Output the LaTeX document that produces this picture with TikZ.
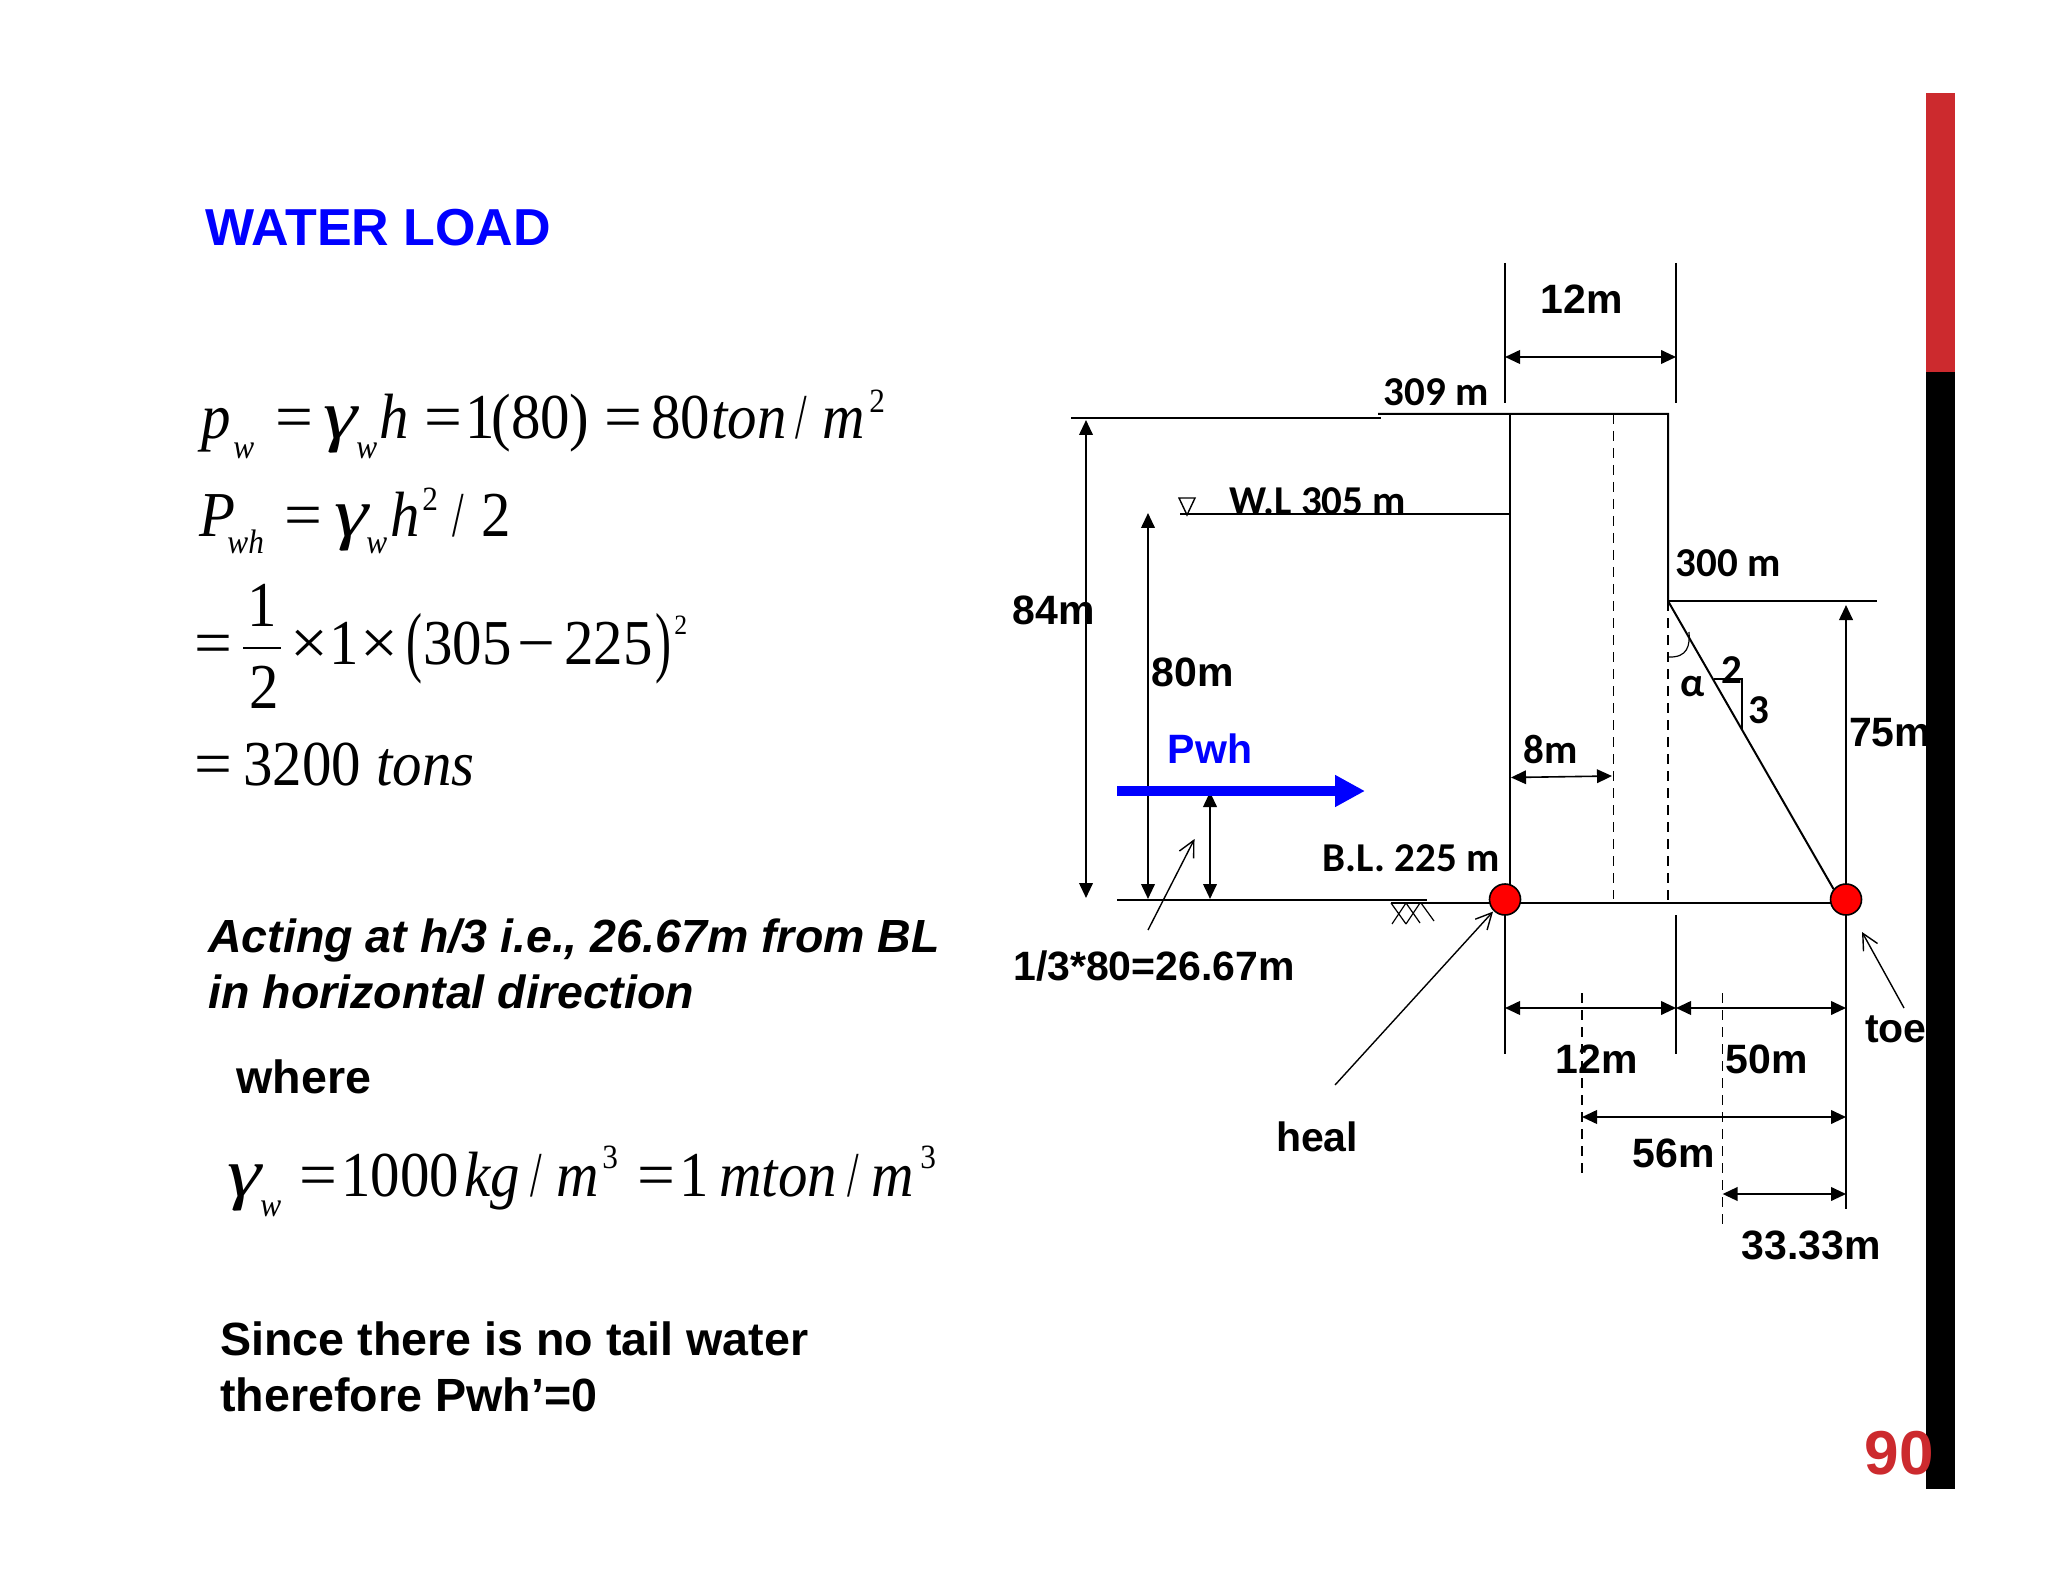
\documentclass[tikz,border=0pt]{standalone}
\usepackage{fontspec}
\setmainfont{Liberation Sans}
\newfontfamily\serifeq{Liberation Serif}
\newfontfamily\calib{Carlito}
\usetikzlibrary{arrows.meta}
\definecolor{slidered}{HTML}{CC2A2E}
\definecolor{pureblue}{HTML}{0000FF}
\newcommand{\fsz}[1]{\fontsize{#1}{#1}\selectfont}
\newcommand{\sq}[1]{\scalebox{0.92}[1]{#1}}
\newcommand{\ei}[1]{\sq{\textit{#1}}}
\newcommand{\wide}[1]{\scalebox{1.05}[1]{#1}}
\newcommand{\gam}{\scalebox{1.35}[1.08]{\textit{γ}}}
\newcommand{\slh}{\scalebox{0.65}[1]{/}}
\tikzset{
 ln/.style={line width=1pt,black},
 dimarrow/.style={ln,{Triangle[length=7.5pt,width=6.8pt]}-{Triangle[length=7.5pt,width=6.8pt]}},
 uparrow/.style={ln,-{Triangle[length=7.5pt,width=6.8pt]}},
 openarrow/.style={line width=0.7pt,-{Straight Barb[length=8pt,width=8pt]}},
 dashln/.style={line width=0.8pt,dash pattern=on 5pt off 3.5pt},
 arial/.style={font=\fsz{20.5}\bfseries,inner sep=0pt},
 calibri/.style={font=\fsz{20.5}\calib\bfseries,inner sep=0pt},
 bodytext/.style={font=\fsz{23.3}\bfseries,anchor=base west,inner sep=0pt},
 bodyital/.style={font=\fsz{23.25}\bfseries\itshape,anchor=base west,inner sep=0pt},
 eqtext/.style={font=\fsz{32}\serifeq,anchor=base west,inner sep=0pt},
 eqsmall/.style={font=\fsz{17}\serifeq,anchor=base west,inner sep=0pt},
 hinge/.style={circle,draw=black,line width=0.8pt,fill=red,minimum size=15.5pt,inner sep=0pt},
}
\begin{document}
\begin{tikzpicture}[x=0.5pt,y=-0.5pt]
\useasboundingbox (0,0) rectangle (2048,1582);
\fill[white] (0,0) rectangle (2048,1582);

% left column
\node[font=\fsz{26}\bfseries,text=pureblue,anchor=base west,inner sep=0pt] (title) at (205,246) {WATER LOAD};
% line 1
\node[eqtext] (a1) at (201,439) {\ei{p}};
\node[eqsmall] (a2) at (233,459) {\ei{w}};
\node[eqtext] (a3) at (275,439) {\wide{=}};
\node[eqtext] (a4) at (323,439) {\gam};
\node[eqsmall] (a5) at (356,459) {\ei{w}};
\node[eqtext] (a6) at (379,439) {\ei{h}};
\node[eqtext] (a7) at (424,439) {\wide{=}};
\node[eqtext] (a8) at (465,439) {\sq{1}};
\node[eqtext] (a9) at (491,439) {\sq{(80)}};
\node[eqtext] (a10) at (604,439) {\wide{=}};
\node[eqtext] (a11) at (651,439) {\sq{80}};
\node[eqtext] (a12) at (711,439) {\ei{ton}};
\node[eqtext] (a13) at (795,439) {\slh};
\node[eqtext] (a14) at (822,439) {\ei{m}};
\node[eqsmall] (a15) at (869,413) {\sq{2}};
% line 2
\node[eqtext] (b1) at (199,537) {\ei{P}};
\node[eqsmall] (b2) at (227,553) {\ei{wh}};
\node[eqtext] (b3) at (284,537) {\wide{=}};
\node[eqtext] (b4) at (334,537) {\gam};
\node[eqsmall] (b5) at (366,553) {\ei{w}};
\node[eqtext] (b6) at (390,537) {\ei{h}};
\node[eqsmall] (b7) at (422,511) {\sq{2}};
\node[eqtext] (b8) at (452,537) {\slh};
\node[eqtext] (b9) at (481,537) {\sq{2}};
% line 3
\node[eqtext] (c1) at (194,664) {\wide{=}};
\node[eqtext] (c2) at (247,626) {\sq{1}};
\node[eqtext] (c3) at (249,708) {\sq{2}};
\draw[line width=1pt] (243,648) -- (281,648);
\node[eqtext] (c4) at (290,664) {\wide{×}};
\node[eqtext] (c5) at (329,664) {\sq{1}};
\node[eqtext] (c6) at (360,664) {\wide{×}};
\node[eqtext] (c7) at (406,667) {\scalebox{0.75}[1.22]{(}};
\node[eqtext] (c8) at (423,664) {\sq{305}};
\node[eqtext] (c9) at (517,664) {\wide{−}};
\node[eqtext] (c10) at (564,664) {\sq{225}};
\node[eqtext] (c11) at (655,667) {\scalebox{0.75}[1.22]{)}};
\node[eqsmall,font=\fsz{14}\serifeq] (c12) at (674,634) {\sq{2}};
% line 4
\node[eqtext] (d1) at (194,785) {\wide{=}};
\node[eqtext] (d2) at (243,785) {\sq{3200}};
\node[eqtext] (d3) at (376,785) {\ei{tons}};

\node[bodyital] (act1) at (208,952) {Acting at h/3 i.e., 26.67m from BL};
\node[bodyital] (act2) at (208,1008) {in horizontal direction};
\node[bodytext] (where) at (236,1093) {where};
% gamma line
\node[eqtext] (e1) at (227,1196) {\gam};
\node[eqsmall] (e2) at (260,1216) {\ei{w}};
\node[eqtext] (e3) at (299,1196) {\wide{=}};
\node[eqtext] (e4) at (341,1196) {\sq{1000}};
\node[eqtext] (e5) at (464,1196) {\ei{kg}};
\node[eqtext] (e6) at (530,1196) {\slh};
\node[eqtext] (e7) at (556,1196) {\ei{m}};
\node[eqsmall] (e8) at (602,1168) {\sq{3}};
\node[eqtext] (e9) at (637,1196) {\wide{=}};
\node[eqtext] (e10) at (679,1196) {\sq{1}};
\node[eqtext] (e11) at (719,1196) {\ei{mton}};
\node[eqtext] (e12) at (847,1196) {\slh};
\node[eqtext] (e13) at (871,1196) {\ei{m}};
\node[eqsmall] (e14) at (920,1168) {\sq{3}};
\node[bodytext] (since1) at (220,1355.5) {Since there is no tail water};
\node[bodytext] (since2) at (220,1411.5) {therefore Pwh’=0};

% hinges positions
\coordinate (H) at (1505,899.5);
\coordinate (T) at (1846,899.5);
% dam
\coordinate (crestL) at (1378,414);
\coordinate (crestU) at (1510,414);
\coordinate (crestD) at (1668,414);
\coordinate (slopeTop) at (1668,601);
\coordinate (baseU) at (1510,903);
\coordinate (baseD) at (1668,903);
\coordinate (slopeEnd) at (1833.5,889);
\draw[ln] (crestL) -- (crestD) -- (slopeTop) -- (slopeEnd);
\draw[ln] (crestU) -- (baseU);
\draw[ln] (1391,903) -- (1846,903);
\draw[dashln] (1613.5,414) -- (1613.5,899);
\draw[dashln] (slopeTop) -- (baseD);
% top dimension
\coordinate (t1) at (1505,263); \coordinate (t1b) at (1505,403);
\coordinate (t2) at (1676,263); \coordinate (t2b) at (1676,403);
\draw[ln] (t1) -- (t1b); \draw[ln] (t2) -- (t2b);
\draw[dimarrow] (1505,357) -- (1676,357);
\node[arial] (l12top) at (1582,299) {12m};
\node[calibri] (l309) at (1436,392) {309 m};
% level lines
\coordinate (top84) at (1071,418.5); \coordinate (top84e) at (1381,418.5);
\draw[ln] (top84) -- (top84e);
\coordinate (wlL) at (1180,514.5); \coordinate (wlR) at (1510,514.5);
\draw[ln] (wlL) -- (wlR);
\draw[line width=0.7pt] (1179,498) -- (1195,498) -- (1187,515) -- cycle;
\node[calibri] (lwl) at (1318,501.5) {W.L 305 m};
\coordinate (l300e) at (1877,601);
\draw[ln] (slopeTop) -- (l300e);
\node[calibri] (l300) at (1728,563) {300 m};
\coordinate (gL) at (1117,899.5); \coordinate (gR) at (1427,899.5);
\draw[ln] (gL) -- (gR);
% hatch
\draw[line width=0.6pt] (1391,903) -- (1406,924) (1406,903) -- (1392,924) (1406,903) -- (1420,923) (1420,903) -- (1406,924) (1421,903) -- (1434,921);
% vertical dims
\draw[dimarrow] (1086,420) -- (1086,898);
\draw[dimarrow] (1148,513) -- (1148,899);
\draw[dimarrow] (1210,792) -- (1210,899);
\node[arial] (l84) at (1053.5,610) {84m};
\node[arial] (l80) at (1192.5,672) {80m};
\node[arial,text=pureblue] (lpwh) at (1210,749) {Pwh};
% blue arrow
\draw[line width=5pt,pureblue,-{Triangle[length=15pt,width=15pt]}] (1117,791) -- (1365,791);
\node[calibri] (lbl) at (1411,858) {B.L. 225 m};
\draw[openarrow] (1148,930) -- (1194.5,839);
\node[arial] (l13) at (1154,966) {1/3*80=26.67m};
% 8m
\draw[dimarrow,line width=0.8pt] (1511,777.5) -- (1612,776);
\node[calibri] (l8) at (1551,749) {8m};
% slope detail
\draw[line width=0.6pt] (1689,632) .. controls (1690,645) and (1688,658) .. (1668,657);
\node[calibri] (lalpha) at (1693,687) {α};
\node[calibri] (l2) at (1732,670) {2};
\node[calibri] (l3) at (1759,710) {3};
\draw[line width=0.7pt] (1714,679) -- (1742,679) -- (1742,729);
% 75m
\coordinate (t75) at (1846,605);
\draw[uparrow] (T) -- (t75);
\node[arial] (l75) at (1890,733) {75m};
% below ticks
\coordinate (hb) at (1505,1054); \coordinate (tb) at (1846,1209);
\coordinate (mt) at (1676,915); \coordinate (mb) at (1676,1054);
\draw[ln] (H) -- (hb); \draw[ln] (T) -- (tb); \draw[ln] (mt) -- (mb);
\draw[dashln] (1582,993) -- (1582,1176);
\draw[dashln] (1722.6,993) -- (1722.6,1224);
\draw[dimarrow] (1505,1008) -- (1676,1008);
\draw[dimarrow] (1676,1008) -- (1846,1008);
\draw[dimarrow] (1582,1117) -- (1846,1117);
\draw[dimarrow] (1722.6,1194) -- (1846,1194);
\node[arial] (l12) at (1596.5,1059) {12m};
\node[arial] (l50) at (1767,1059) {50m};
\node[arial] (l56) at (1673.5,1153) {56m};
\node[arial] (l33) at (1811,1245) {33.33m};
\node[arial] (ltoe) at (1896,1029) {toe};
\node[arial] (lheal) at (1317,1137) {heal};
% hinges
\node[hinge] (heel) at (H) {};
\node[hinge] (toe) at (T) {};
\coordinate (healtail) at (1335,1085);
\coordinate (toetail) at (1904,1008);
\draw[openarrow] (healtail) -- (1493,911.6);
\draw[openarrow] (toetail) -- (1862,932);
% side bar
\fill[slidered] (1926,93) rectangle (1955,372);
\fill[black] (1926,372) rectangle (1955,1489);
\node[font=\fsz{31}\bfseries,text=slidered,inner sep=0pt] (pg) at (1899,1453) {90};
\end{tikzpicture}
\end{document}
